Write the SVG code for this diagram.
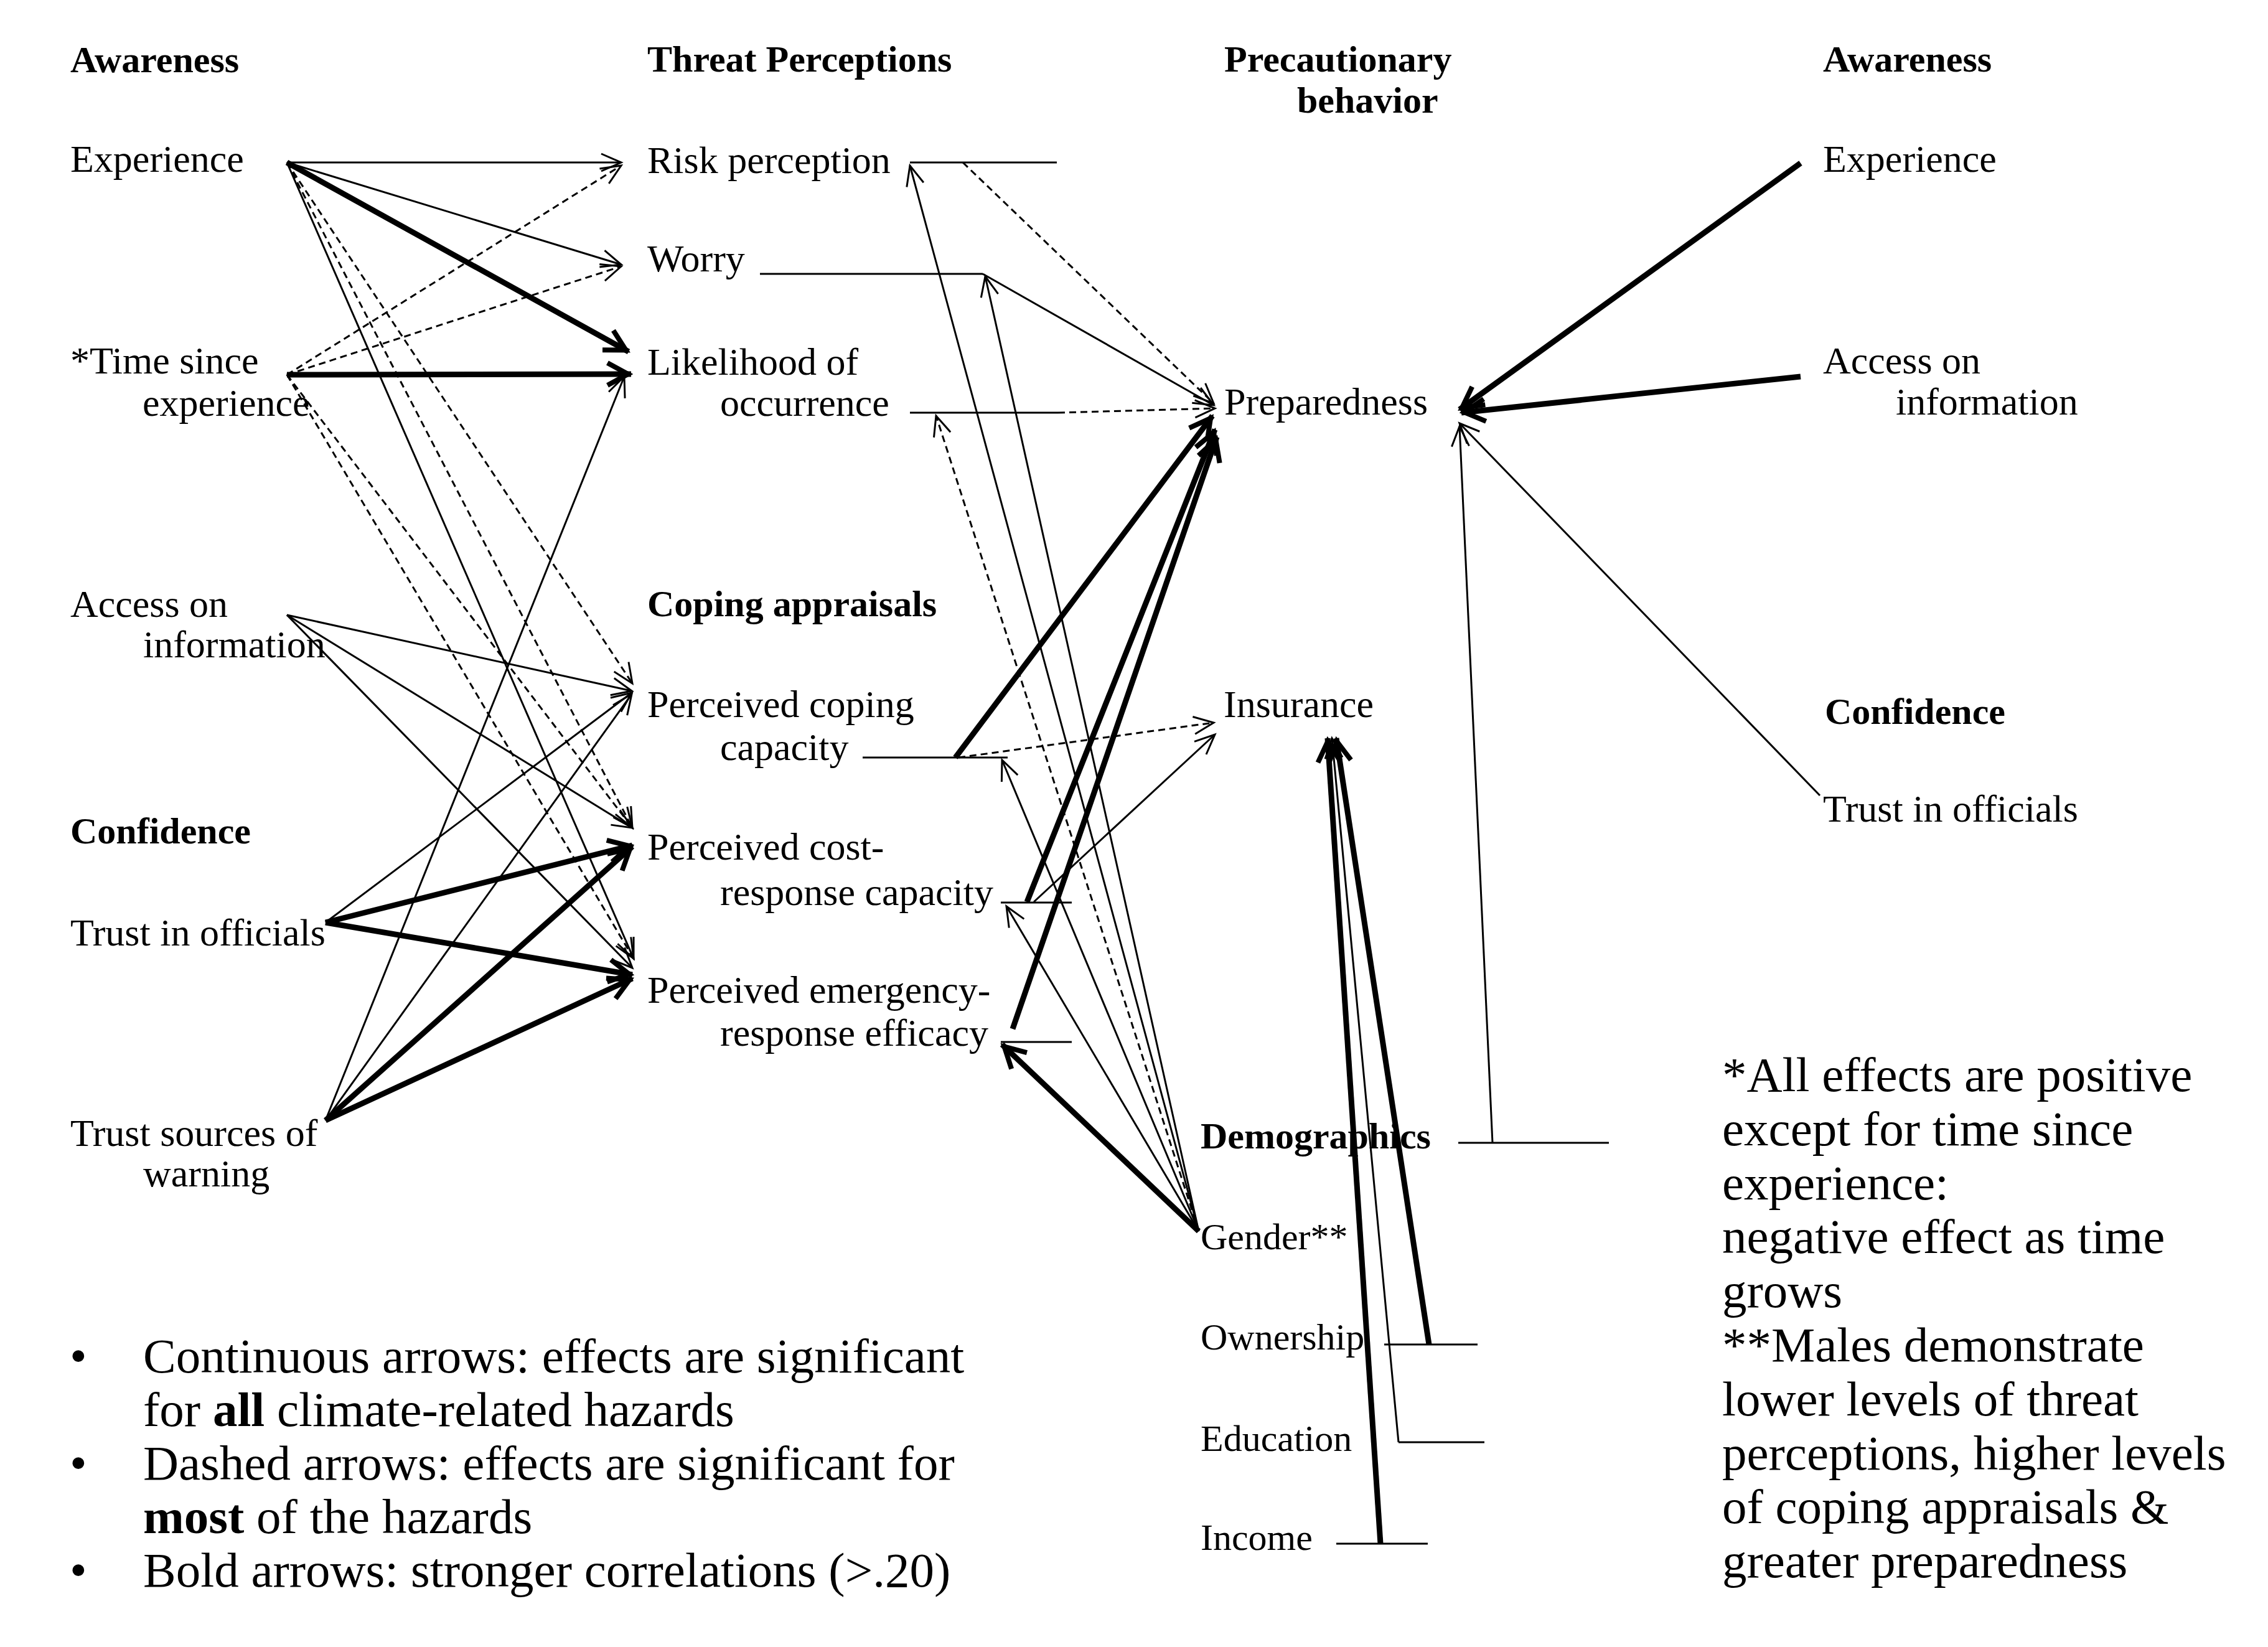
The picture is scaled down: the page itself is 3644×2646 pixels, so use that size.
<svg xmlns="http://www.w3.org/2000/svg" width="3644" height="2646" viewBox="0 0 3644 2646">
<defs>
<style>
text { font-family: "Liberation Serif", "Times New Roman", serif; fill: #000; }
.lbl { font-size: 62px; }
.dem { font-size: 60px; }
.hdr { font-size: 60px; font-weight: bold; }
.note { font-size: 79px; }
.c { fill: none; stroke: #000; stroke-width: 3; stroke-linecap: butt; }
.b { stroke-width: 9; }
.d { stroke-dasharray: 11 7; }
.a { marker-end: url(#ah); }
.ab { marker-end: url(#ahb); }
</style>
<marker id="ah" markerUnits="userSpaceOnUse" orient="auto" markerWidth="1" markerHeight="1" style="overflow:visible">
<path d="M-32,-14 L0,0 L-32,14" fill="none" stroke="#000" stroke-width="3"/>
</marker>
<marker id="ahb" markerUnits="userSpaceOnUse" orient="auto" markerWidth="1" markerHeight="1" style="overflow:visible">
<path d="M-38,-18 L-5,0 L-38,18" fill="none" stroke="#000" stroke-width="8"/>
</marker>
</defs>
<rect width="3644" height="2646" fill="#fff"/>

<g id="headers">
<text class="hdr" x="113" y="116">Awareness</text>
<text class="hdr" x="1040" y="115">Threat Perceptions</text>
<text class="hdr" x="1967" y="115">Precautionary</text>
<text class="hdr" x="2084" y="181">behavior</text>
<text class="hdr" x="2929" y="115">Awareness</text>
<text class="hdr" x="113" y="1355">Confidence</text>
<text class="hdr" x="1040" y="990">Coping appraisals</text>
<text class="hdr" x="2932" y="1163">Confidence</text>
</g>

<g id="node-experience"><text class="lbl" x="113" y="276">Experience</text></g>
<g id="node-time-since"><text class="lbl" x="113" y="600">*Time since</text><text class="lbl" x="229" y="668">experience</text></g>
<g id="node-access"><text class="lbl" x="113" y="991">Access on</text><text class="lbl" x="230" y="1056">information</text></g>
<g id="node-trust-officials"><text class="lbl" x="113" y="1519">Trust in officials</text></g>
<g id="node-trust-sources"><text class="lbl" x="113" y="1841">Trust sources of</text><text class="lbl" x="230" y="1906">warning</text></g>

<g id="node-risk"><text class="lbl" x="1040" y="278">Risk perception</text></g>
<g id="node-worry"><text class="lbl" x="1040" y="436">Worry</text></g>
<g id="node-likelihood"><text class="lbl" x="1040" y="602">Likelihood of</text><text class="lbl" x="1157" y="668">occurrence</text></g>
<g id="node-coping"><text class="lbl" x="1040" y="1152">Perceived coping</text><text class="lbl" x="1157" y="1221">capacity</text></g>
<g id="node-cost"><text class="lbl" x="1040" y="1381">Perceived cost-</text><text class="lbl" x="1157" y="1454">response capacity</text></g>
<g id="node-emergency"><text class="lbl" x="1040" y="1611">Perceived emergency-</text><text class="lbl" x="1157" y="1680">response efficacy</text></g>

<g id="node-preparedness"><text class="lbl" x="1967" y="666">Preparedness</text></g>
<g id="node-insurance"><text class="lbl" x="1966" y="1152">Insurance</text></g>
<g id="node-demographics"><text class="hdr" x="1929" y="1845">Demographics</text></g>
<g id="node-gender"><text class="dem" x="1929" y="2007">Gender**</text></g>
<g id="node-ownership"><text class="dem" x="1929" y="2168">Ownership</text></g>
<g id="node-education"><text class="dem" x="1929" y="2331">Education</text></g>
<g id="node-income"><text class="dem" x="1929" y="2490">Income</text></g>

<g id="node-experience-r"><text class="lbl" x="2929" y="276">Experience</text></g>
<g id="node-access-r"><text class="lbl" x="2929" y="600">Access on</text><text class="lbl" x="3046" y="666">information</text></g>
<g id="node-trust-officials-r"><text class="lbl" x="2929" y="1320">Trust in officials</text></g>

<g id="footnote">
<text class="note" x="2767" y="1753">*All effects are positive</text>
<text class="note" x="2767" y="1840">except for time since</text>
<text class="note" x="2767" y="1927">experience:</text>
<text class="note" x="2767" y="2013">negative effect as time</text>
<text class="note" x="2767" y="2100">grows</text>
<text class="note" x="2767" y="2187">**Males demonstrate</text>
<text class="note" x="2767" y="2274">lower levels of threat</text>
<text class="note" x="2767" y="2361">perceptions, higher levels</text>
<text class="note" x="2767" y="2447">of coping appraisals &amp;</text>
<text class="note" x="2767" y="2534">greater preparedness</text>
</g>

<g id="legend">
<text class="note" x="112" y="2205">•</text>
<text class="note" x="230" y="2205">Continuous arrows: effects are significant</text>
<text class="note" x="230" y="2291">for <tspan font-weight="bold">all</tspan> climate-related hazards</text>
<text class="note" x="112" y="2377">•</text>
<text class="note" x="230" y="2377">Dashed arrows: effects are significant for</text>
<text class="note" x="230" y="2463"><tspan font-weight="bold">most</tspan> of the hazards</text>
<text class="note" x="112" y="2549">•</text>
<text class="note" x="230" y="2549">Bold arrows: stronger correlations (&gt;.20)</text>
</g>

<g id="connectors">
<!-- Experience -->
<line class="c a" x1="461" y1="261" x2="998" y2="261"/>
<line class="c a" x1="461" y1="261" x2="998" y2="425"/>
<line class="c b ab" x1="461" y1="261" x2="1010" y2="565"/>
<line class="c d a" x1="461" y1="261" x2="1016" y2="1098"/>
<line class="c d a" x1="461" y1="261" x2="1016" y2="1330"/>
<line class="c a" x1="461" y1="261" x2="1018" y2="1540"/>
<!-- Time since -->
<line class="c d a" x1="461" y1="602" x2="998" y2="266"/>
<line class="c d a" x1="461" y1="602" x2="998" y2="428"/>
<line class="c b ab" x1="461" y1="602" x2="1014" y2="601"/>
<line class="c d a" x1="461" y1="602" x2="1016" y2="1330"/>
<line class="c d a" x1="461" y1="602" x2="1018" y2="1540"/>
<!-- Access -->
<line class="c a" x1="461" y1="988" x2="1015" y2="1110"/>
<line class="c a" x1="461" y1="988" x2="1016" y2="1330"/>
<line class="c a" x1="461" y1="988" x2="1016" y2="1555"/>
<!-- Trust officials -->
<line class="c a" x1="523" y1="1482" x2="1015" y2="1113"/>
<line class="c b ab" x1="523" y1="1482" x2="1016" y2="1358"/>
<line class="c b ab" x1="523" y1="1482" x2="1016" y2="1566"/>
<!-- Trust sources -->
<line class="c a" x1="523" y1="1800" x2="1003" y2="605"/>
<line class="c a" x1="523" y1="1800" x2="1015" y2="1115"/>
<line class="c b ab" x1="523" y1="1800" x2="1016" y2="1360"/>
<line class="c b ab" x1="523" y1="1800" x2="1016" y2="1572"/>

<!-- Threat perceptions to preparedness -->
<line class="c" x1="1462" y1="261" x2="1698" y2="261"/>
<line class="c d a" x1="1547" y1="261" x2="1950" y2="648"/>
<line class="c" x1="1221" y1="440" x2="1579" y2="440"/>
<line class="c a" x1="1579" y1="440" x2="1950" y2="651"/>
<line class="c" x1="1462" y1="663" x2="1700" y2="663"/>
<line class="c d a" x1="1700" y1="663" x2="1952" y2="656"/>
<!-- Coping appraisals -->
<line class="c" x1="1386" y1="1217" x2="1619" y2="1217"/>
<line class="c b ab" x1="1535" y1="1217" x2="1948" y2="668"/>
<line class="c d a" x1="1540" y1="1217" x2="1950" y2="1161"/>
<line class="c" x1="1608" y1="1450" x2="1722" y2="1450"/>
<line class="c b ab" x1="1650" y1="1449" x2="1952" y2="690"/>
<line class="c a" x1="1661" y1="1449" x2="1952" y2="1180"/>
<line class="c" x1="1608" y1="1674" x2="1722" y2="1674"/>
<line class="c b ab" x1="1627" y1="1653" x2="1955" y2="702"/>
<!-- Gender -->
<line class="c a" x1="1926" y1="1978" x2="1462" y2="266"/>
<line class="c a" x1="1926" y1="1978" x2="1583" y2="444"/>
<line class="c d a" x1="1926" y1="1978" x2="1504" y2="668"/>
<line class="c a" x1="1926" y1="1978" x2="1610" y2="1221"/>
<line class="c a" x1="1926" y1="1978" x2="1617" y2="1456"/>
<line class="c b ab" x1="1926" y1="1978" x2="1610" y2="1678"/>
<!-- Demographics -->
<line class="c" x1="2343" y1="1836" x2="2585" y2="1836"/>
<line class="c a" x1="2398" y1="1836" x2="2345" y2="685"/>
<line class="c" x1="2224" y1="2160" x2="2374" y2="2160"/>
<line class="c b ab" x1="2296" y1="2160" x2="2147" y2="1186"/>
<line class="c" x1="2247" y1="2317" x2="2385" y2="2317"/>
<line class="c a" x1="2247" y1="2317" x2="2140" y2="1186"/>
<line class="c" x1="2147" y1="2480" x2="2294" y2="2480"/>
<line class="c b ab" x1="2218" y1="2480" x2="2133" y2="1186"/>
<!-- Right side -->
<line class="c b ab" x1="2893" y1="262" x2="2345" y2="658"/>
<line class="c b ab" x1="2893" y1="605" x2="2348" y2="663"/>
<line class="c a" x1="2924" y1="1278" x2="2345" y2="680"/>
</g>
</svg>
